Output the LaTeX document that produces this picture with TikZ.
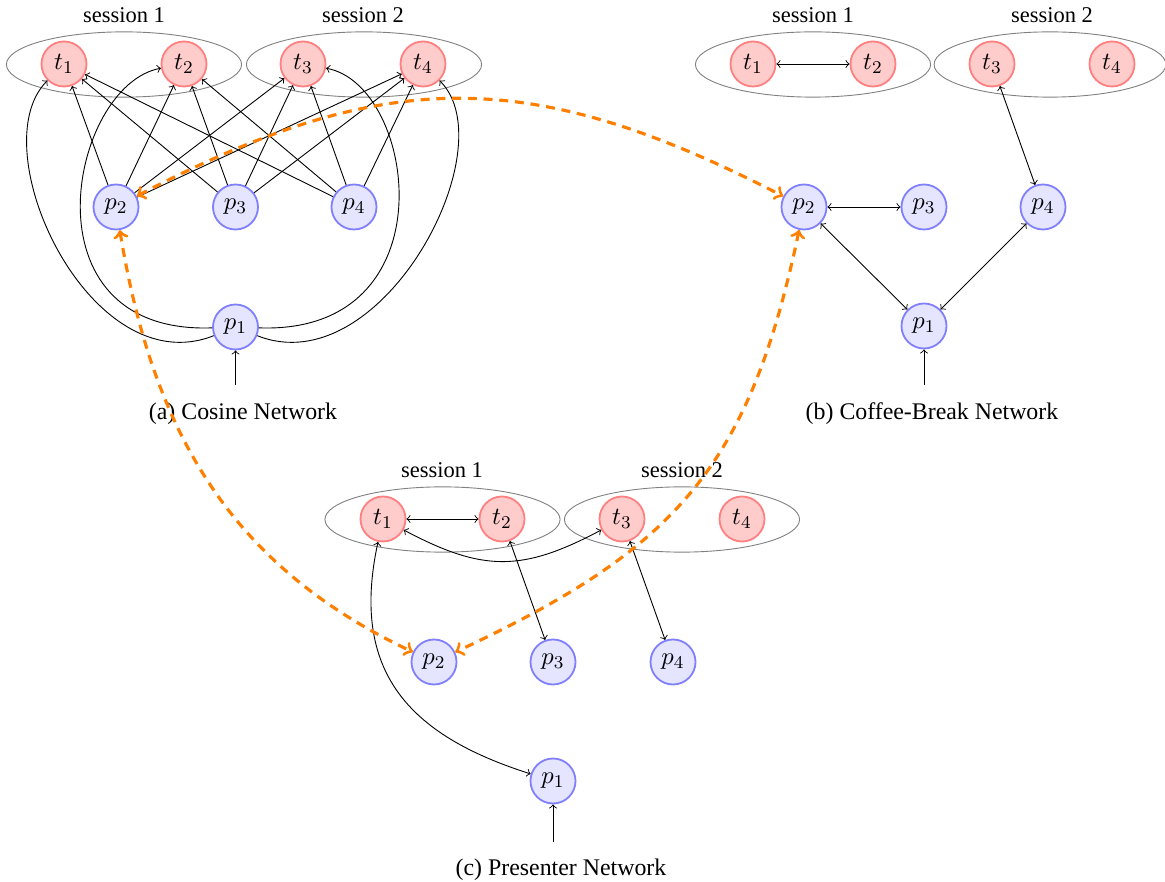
\documentclass[tikz,border=0pt]{standalone}
\usepackage[no-math]{fontspec}
\setmainfont{Liberation Serif}
\usetikzlibrary{shapes.geometric}
\tikzset{
  tnode/.style={circle, draw=red!50, fill=red!20, thick, minimum size=20pt, inner sep=0pt, font=\fontsize{10.8}{13}\selectfont},
  pnode/.style={circle, draw=blue!50, fill=blue!10, thick, minimum size=20pt, inner sep=0pt, font=\fontsize{10.8}{13}\selectfont},
  sess/.style={ellipse, draw=black!50, minimum width=104.5pt, minimum height=29pt, inner sep=0pt},
  lbl/.style={anchor=base, font=\fontsize{10}{12}\selectfont},
  captext/.style={anchor=base, font=\fontsize{10.6}{12}\selectfont},
  conn/.style={->},
  biconn/.style={<->},
  link/.style={<->, draw=orange, line width=1.4pt, dash pattern=on 4pt off 3pt}
}
\begin{document}
\begin{tikzpicture}[x=0.4444pt, y=-0.4444pt]
\useasboundingbox (0,0) rectangle (1165,882);

% ---------- panel (a) ----------
\node[sess] (a-s1) at (124,64.5) {};
\node[sess] (a-s2) at (364,64.5) {};
\node[lbl] (a-l1) at (124,22.5) {session 1};
\node[lbl] (a-l2) at (363,22.5) {session 2};
\node[tnode] (a-t1) at (64,64) {$t_1$};
\node[tnode] (a-t2) at (184,64) {$t_2$};
\node[tnode] (a-t3) at (303,64) {$t_3$};
\node[tnode] (a-t4) at (423,64) {$t_4$};
\node[pnode] (a-p2) at (116,207) {$p_2$};
\node[pnode] (a-p3) at (235.5,207) {$p_3$};
\node[pnode] (a-p4) at (354,207) {$p_4$};
\node[pnode] (a-p1) at (235.5,327) {$p_1$};
\coordinate (a-in) at (235.5,385);
\node[captext] (a-cap) at (243,420) {(a) Cosine Network};
\foreach \p in {2,3,4}{
  \foreach \t in {1,2,3,4}{
    \draw[conn] (a-p\p) -- (a-t\t);
  }
}
\draw[conn] (a-p1) .. controls (90,385) and (-20,148) .. (a-t1);
\draw[conn] (a-p1) .. controls (20,335) and (70,85) .. (a-t2);
\draw[conn] (a-p1) .. controls (451,335) and (417,85) .. (a-t3);
\draw[conn] (a-p1) .. controls (381,385) and (507,148) .. (a-t4);
\draw[conn] (a-in) -- (a-p1);

% ---------- panel (b) ----------
\node[sess] (b-s1) at (813,64.5) {};
\node[sess, minimum width=103pt] (b-s2) at (1050,64.5) {};
\node[lbl] (b-l1) at (813,22.5) {session 1};
\node[lbl] (b-l2) at (1052,22.5) {session 2};
\node[tnode] (b-t1) at (753,64) {$t_1$};
\node[tnode] (b-t2) at (873,64) {$t_2$};
\node[tnode] (b-t3) at (992,64) {$t_3$};
\node[tnode] (b-t4) at (1112,64) {$t_4$};
\node[pnode] (b-p2) at (804,207) {$p_2$};
\node[pnode] (b-p3) at (924,207) {$p_3$};
\node[pnode] (b-p4) at (1043,207) {$p_4$};
\node[pnode] (b-p1) at (924,326) {$p_1$};
\coordinate (b-in) at (924,385);
\node[captext] (b-cap) at (932,420) {(b) Coffee-Break Network};
\draw[biconn] (b-t1) -- (b-t2);
\draw[biconn] (b-t3) -- (b-p4);
\draw[biconn] (b-p2) -- (b-p3);
\draw[biconn] (b-p2) -- (b-p1);
\draw[biconn] (b-p4) -- (b-p1);
\draw[conn] (b-in) -- (b-p1);

% ---------- panel (c) ----------
\node[sess] (c-s1) at (442.5,519.5) {};
\node[sess] (c-s2) at (682,519.5) {};
\node[lbl] (c-l1) at (442,478) {session 1};
\node[lbl] (c-l2) at (682,478) {session 2};
\node[tnode] (c-t1) at (383,519) {$t_1$};
\node[tnode] (c-t2) at (502,519) {$t_2$};
\node[tnode] (c-t3) at (622,519) {$t_3$};
\node[tnode] (c-t4) at (742,519) {$t_4$};
\node[pnode] (c-p2) at (434,662) {$p_2$};
\node[pnode] (c-p3) at (553,662) {$p_3$};
\node[pnode] (c-p4) at (673,662) {$p_4$};
\node[pnode] (c-p1) at (553,781) {$p_1$};
\coordinate (c-in) at (553,842);
\node[captext] (c-cap) at (561,875) {(c) Presenter Network};
\draw[biconn] (c-t1) -- (c-t2);
\draw[biconn] (c-t1) .. controls (483,572) and (522,572) .. (c-t3);
\draw[biconn] (c-t2) -- (c-p3);
\draw[biconn] (c-t3) -- (c-p4);
\draw[biconn] (c-t1) .. controls (350,671) and (408,735) .. (c-p1);
\draw[conn] (c-in) -- (c-p1);

% ---------- cross links ----------
\draw[link] (a-p2) .. controls (386,66) and (531,66) .. (b-p2);
\draw[link] (a-p2) .. controls (153,433) and (231,566) .. (c-p2);
\draw[link] (b-p2) .. controls (749,468) and (676,549) .. (c-p2);
\end{tikzpicture}
\end{document}
